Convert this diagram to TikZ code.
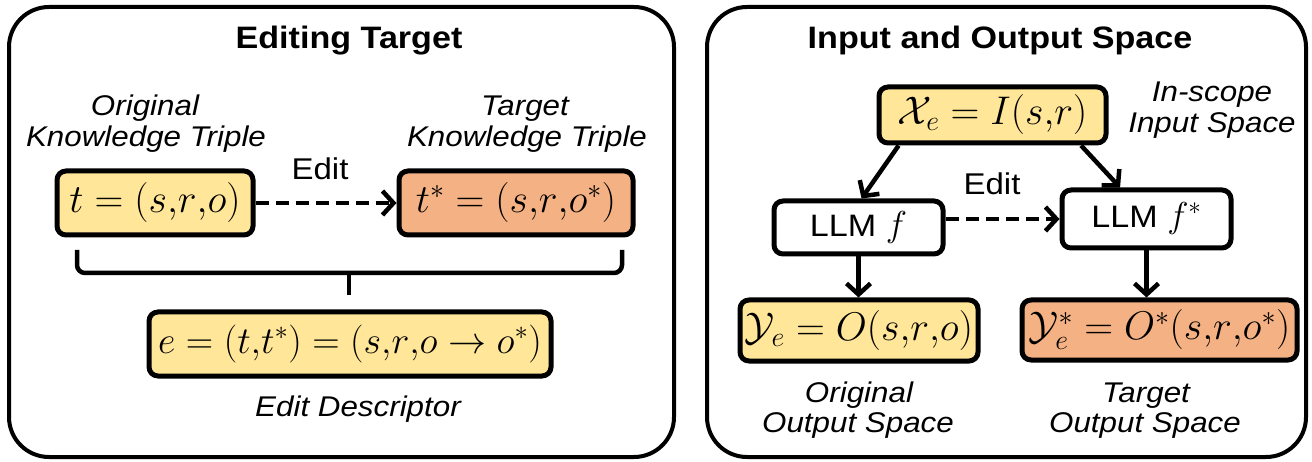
\RequirePackage{fix-cm}
\documentclass[tikz,border=0pt]{standalone}
\usepackage[no-math]{fontspec}
\setmainfont{Liberation Sans}[FakeStretch=1.1]
\usetikzlibrary{arrows.meta}

\definecolor{boxyellow}{HTML}{FFE699}
\definecolor{boxorange}{HTML}{F4B183}

% tight comma inside tuples
\newcommand{\tc}{{,}}
% model symbol set a little larger than the label text
\newcommand{\modelsym}[1]{{\fontsize{36}{40}\selectfont$#1$}}

\tikzset{
  panel/.style={draw=black, line width=4pt, rounded corners=40pt},
  mathbox/.style={draw=black, line width=5pt, rounded corners=9pt, inner sep=0pt,
    font=\fontsize{40}{44}\selectfont},
  yellowbox/.style={mathbox, fill=boxyellow},
  orangebox/.style={mathbox, fill=boxorange},
  llmbox/.style={draw=black, line width=5pt, rounded corners=9pt, inner sep=0pt,
    fill=white, font=\fontsize{31}{36}\selectfont},
  titletext/.style={anchor=base, inner sep=0pt, font=\fontsize{31}{36}\selectfont\bfseries},
  labeltext/.style={anchor=base, inner sep=0pt, font=\fontsize{28.5}{32}\selectfont\itshape},
  edittext/.style={anchor=base, inner sep=0pt, font=\fontsize{30}{34}\selectfont},
  flow/.style={line width=4.5pt, -{Straight Barb[length=11pt,width=24pt]}},
  editflow/.style={flow, dash pattern=on 13pt off 7pt},
  bracket/.style={line width=4.5pt, rounded corners=8pt},
}

\begin{document}
\begin{tikzpicture}[x=1pt, y=-1pt]
  \useasboundingbox[fill=white] (0,0) rectangle (1312,462);

  % ---------------- left panel: editing target ----------------
  \draw[panel] (9,7) rectangle (674,457);
  \node[titletext] (lefttitle) at (349,49) {Editing Target};

  \node[labeltext] (origA) at (145,116) {Original};
  \node[labeltext] (origB) at (146,147) {Knowledge Triple};
  \node[labeltext] (targA) at (525,116) {Target};
  \node[labeltext] (targB) at (527,147) {Knowledge Triple};

  \node[yellowbox, minimum width=196pt, minimum height=64pt] (t) at (155,203)
    {$t = (s\tc r\tc o)$};
  \node[orangebox, minimum width=234pt, minimum height=64pt] (ts) at (516,203)
    {$t^{*} = (s\tc r\tc o^{*})$};
  \node[edittext] (editL) at (320,180) {Edit};
  \draw[editflow] (t.east) -- (ts.west);

  % bracket joining both triples into the descriptor
  \coordinate (brL) at (77,250);
  \coordinate (brR) at (622,250);
  \coordinate (brM) at (349,273);
  \coordinate (brTip) at (349,295);
  \draw[bracket] (brL) -- (brL |- brM) -- (brR |- brM) -- (brR);
  \draw[line width=4.5pt] (brM) -- (brTip);

  \node[yellowbox, minimum width=402pt, minimum height=64pt,
        font=\fontsize{38}{42}\selectfont] (e) at (350,344)
    {$e = (t\tc t^{*}) = (s\tc r\tc o \to o^{*})$};
  \node[labeltext] (desc) at (358,416) {Edit Descriptor};

  % ---------------- right panel: input and output space ----------------
  \draw[panel] (707,7) rectangle (1306,457);
  \node[titletext] (righttitle) at (1000,49) {Input and Output Space};

  \node[yellowbox, minimum width=227pt, minimum height=56pt] (xe) at (992.5,115)
    {$\mathcal{X}_e = I(s\tc r)$};
  \node[labeltext] (inA) at (1212,102) {In-scope};
  \node[labeltext] (inB) at (1212,133) {Input Space};

  \node[llmbox, minimum width=169pt, minimum height=53pt] (f) at (858.5,227.5)
    {LLM \modelsym{f}};
  \node[llmbox, minimum width=169pt, minimum height=58pt] (fs) at (1146.5,219)
    {LLM \modelsym{f^{*}}};
  \node[edittext] (editR) at (992,195) {Edit};

  \node[yellowbox, minimum width=238pt, minimum height=61pt] (ye) at (859,330.5)
    {$\mathcal{Y}_e = O(s\tc r\tc o)$};
  \node[orangebox, minimum width=275pt, minimum height=60pt] (ys) at (1159.5,330)
    {$\mathcal{Y}_e^{*} = O^{*}(s\tc r\tc o^{*})$};

  \node[labeltext] (outA) at (859,402) {Original};
  \node[labeltext] (outB) at (858,432) {Output Space};
  \node[labeltext] (toutA) at (1146,402) {Target};
  \node[labeltext] (toutB) at (1145,432) {Output Space};

  \draw[flow] (xe.198) -- (f.84);
  \draw[flow] (xe.-19) -- (fs.130);
  \draw[editflow] (f.east |- fs.west) -- (fs.west);
  \draw[flow] (f.south) -- (f.south |- ye.north);
  \draw[flow] (fs.south) -- (fs.south |- ys.north);
\end{tikzpicture}
\end{document}
